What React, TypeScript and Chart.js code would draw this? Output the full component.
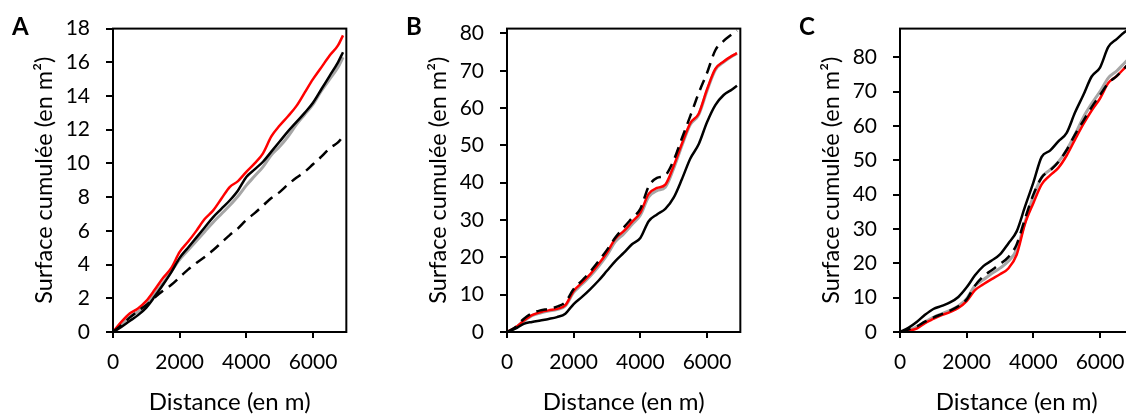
import React, { useEffect, useRef } from "react";
import { Chart, registerables } from "chart.js";

Chart.register(...registerables);

const FONT = "Lato";

const distances = [0, 250, 500, 750, 1000, 1250, 1500, 1750, 2000, 2250, 2500, 2750, 3000, 3250, 3500, 3750, 4000, 4250, 4500, 4750, 5000, 5250, 5500, 5750, 6000, 6250, 6500, 6750, 6900];
const xTicks = [0, 2000, 4000, 6000];
const xLabel = "Distance (en m)";
const yLabel = "Surface cumulée (en m²)";

// Panel A
const aTicks = [0, 2, 4, 6, 8, 10, 12, 14, 16, 18];
const aRed = [0, 0.6, 1.1, 1.4, 1.85, 2.5, 3.2, 3.8, 4.75, 5.35, 6.0, 6.7, 7.2, 7.9, 8.6, 8.95, 9.5, 10.0, 10.6, 11.6, 12.25, 12.8, 13.4, 14.2, 15.0, 15.7, 16.4, 17.0, 17.6];
const aBlack = [0, 0.3, 0.65, 1.0, 1.45, 2.1, 2.8, 3.55, 4.4, 5.0, 5.6, 6.2, 6.8, 7.3, 7.8, 8.4, 9.2, 9.65, 10.1, 10.7, 11.3, 11.9, 12.45, 13.0, 13.6, 14.4, 15.2, 16.0, 16.6];
const aGrey = [0, 0.45, 0.9, 1.2, 1.6, 2.25, 2.9, 3.6, 4.3, 4.85, 5.4, 5.95, 6.5, 7.0, 7.5, 8.05, 8.7, 9.25, 9.8, 10.5, 11.0, 11.6, 12.3, 12.9, 13.5, 14.3, 15.0, 15.7, 16.3];
const aDashed = [0, 0.4, 0.85, 1.25, 1.6, 2.05, 2.45, 2.8, 3.25, 3.7, 4.1, 4.45, 4.85, 5.3, 5.75, 6.15, 6.65, 7.05, 7.5, 7.95, 8.3, 8.75, 9.15, 9.5, 9.95, 10.4, 10.9, 11.25, 11.6];

// Panel B
const bTicks = [0, 10, 20, 30, 40, 50, 60, 70, 80];
const bRed = [0, 1.2, 3.0, 4.5, 5.3, 5.8, 6.2, 7.2, 11.0, 13.2, 15.5, 18.2, 21.3, 25.0, 27.0, 29.5, 32.0, 37.0, 38.6, 39.5, 44.5, 50.5, 56.0, 58.5, 65.0, 70.5, 72.5, 74.0, 74.7];
const bGrey = [0, 1.1, 2.9, 4.4, 5.1, 5.6, 6.0, 7.0, 10.6, 12.8, 15.0, 17.6, 20.6, 24.2, 26.3, 28.8, 31.3, 36.2, 37.9, 38.8, 43.8, 50.0, 55.6, 58.2, 64.6, 70.2, 72.3, 73.9, 74.6];
const bBlack = [0, 0.9, 2.2, 2.7, 3.1, 3.5, 4.0, 4.9, 7.5, 9.4, 11.5, 13.8, 16.4, 19.0, 21.2, 23.5, 25.2, 29.7, 31.5, 33.0, 36.0, 41.0, 46.5, 50.3, 56.2, 60.8, 63.5, 65.0, 66.0];
const bDashed = [0, 1.3, 3.5, 5.0, 5.8, 6.2, 6.8, 8.0, 11.5, 13.8, 16.2, 19.0, 22.0, 25.3, 28.0, 30.5, 33.0, 39.0, 41.3, 42.0, 46.0, 52.0, 57.9, 64.0, 69.4, 75.5, 78.0, 79.8, 80.8];

// Panel C
const cTicks = [0, 10, 20, 30, 40, 50, 60, 70, 80];
const cBlack = [0, 1.2, 2.9, 5.0, 6.7, 7.6, 8.6, 10.2, 13.0, 16.5, 19.2, 20.8, 22.6, 25.8, 29.3, 36.5, 43.5, 51.0, 52.8, 55.5, 58.0, 63.9, 69.0, 74.4, 77.0, 83.0, 85.3, 87.4, 88.3];
const cRed = [0, 0.4, 1.0, 2.6, 3.8, 4.9, 5.8, 7.0, 9.0, 12.2, 13.9, 15.4, 16.8, 18.5, 22.5, 31.5, 37.5, 43.0, 45.6, 47.8, 51.4, 56.0, 60.5, 64.5, 68.0, 72.5, 74.5, 77.0, 78.5];
const cGrey = [0, 0.5, 1.5, 3.0, 4.3, 5.3, 6.3, 7.6, 9.7, 13.5, 15.2, 17.0, 18.6, 20.6, 24.0, 32.0, 39.5, 45.0, 47.2, 49.5, 53.0, 57.5, 62.5, 66.5, 70.0, 74.0, 76.0, 78.5, 80.0];
const cDashed = [0, 0.7, 1.6, 3.0, 4.2, 5.2, 6.2, 7.5, 9.5, 13.5, 16.2, 18.0, 19.8, 21.8, 25.5, 33.0, 40.0, 45.0, 47.0, 49.5, 53.0, 57.5, 61.5, 65.5, 69.0, 72.5, 74.5, 77.0, 78.2];

type Panel = {
  letter: string;
  yMax: number;
  yTicks: number[];
  red: number[];
  black: number[];
  grey: number[];
  dashed: number[];
  left: number;
};

const panels: Panel[] = [
  { letter: "A", yMax: 18, yTicks: aTicks, red: aRed, black: aBlack, grey: aGrey, dashed: aDashed, left: 0 },
  { letter: "B", yMax: 81.3, yTicks: bTicks, red: bRed, black: bBlack, grey: bGrey, dashed: bDashed, left: 394 },
  { letter: "C", yMax: 88.35, yTicks: cTicks, red: cRed, black: cBlack, grey: cGrey, dashed: cDashed, left: 787 },
];

const CANVAS_W = 380;
const CANVAS_H = 414;

const boxPlugin = {
  id: "panelBox",
  afterDraw(chart: any, _args: any, opts: any) {
    const { ctx, chartArea } = chart;
    const { left, top, right, bottom } = chartArea;
    ctx.save();
    ctx.strokeStyle = "#000";
    ctx.lineWidth = 2;
    ctx.strokeRect(left, top, right - left, bottom - top);
    ctx.fillStyle = "#000";
    ctx.font = `bold 24px ${FONT}`;
    ctx.textBaseline = "alphabetic";
    ctx.textAlign = "left";
    ctx.fillText(opts.letter, 12, 35);
    ctx.restore();
  },
};

function toPoints(vals: number[]) {
  return vals.map((v, i) => ({ x: distances[i], y: v }));
}

function PanelChart({ p }: { p: Panel }) {
  const ref = useRef<HTMLCanvasElement | null>(null);
  useEffect(() => {
    if (!ref.current) return;
    const lineBase = {
      pointRadius: 0,
      borderWidth: 2.5,
      tension: 0.3,
      cubicInterpolationMode: "monotone" as const,
      fill: false,
    };
    const chart = new Chart(ref.current, {
      type: "line",
      data: {
        datasets: [
          { ...lineBase, data: toPoints(p.dashed), borderColor: "#000", borderDash: [11, 7] },
          { ...lineBase, data: toPoints(p.black), borderColor: "#000" },
          { ...lineBase, data: toPoints(p.red), borderColor: "#ff0000" },
          { ...lineBase, data: toPoints(p.grey), borderColor: "#a6a6a6", borderWidth: 3 },
        ],
      },
      options: {
        animation: false,
        responsive: false,
        devicePixelRatio: 1,
        events: [],
        layout: { padding: { left: 0, right: CANVAS_W - 113 - 233.33, top: 25, bottom: 0 } },
        plugins: {
          legend: { display: false },
          tooltip: { enabled: false },
          panelBox: { letter: p.letter },
        } as any,
        scales: {
          x: {
            type: "linear",
            min: 0,
            max: 7000,
            afterBuildTicks: (s: any) => {
              s.ticks = xTicks.map((v) => ({ value: v }));
            },
            afterFit: (s: any) => {
              s.height = 82;
            },
            grid: { display: true, drawOnChartArea: false, drawTicks: true, tickLength: 6, color: "#000", lineWidth: 2 },
            border: { display: true, color: "#000", width: 2 },
            ticks: {
              color: "#000",
              font: { family: FONT, size: 21 },
              padding: 12,
              maxRotation: 0,
              autoSkip: false,
              callback: (v: any) => String(v),
            },
            title: { display: true, text: xLabel, color: "#000", font: { family: FONT, size: 24, lineHeight: 1 }, padding: 0 },
          },
          y: {
            type: "linear",
            min: 0,
            max: p.yMax,
            afterBuildTicks: (s: any) => {
              s.ticks = p.yTicks.map((v) => ({ value: v }));
            },
            afterFit: (s: any) => {
              s.width = 113;
            },
            grid: { display: true, drawOnChartArea: false, drawTicks: true, tickLength: 7, color: "#000", lineWidth: 2 },
            border: { display: true, color: "#000", width: 2 },
            ticks: {
              color: "#000",
              font: { family: FONT, size: 21 },
              padding: 16,
              autoSkip: false,
              callback: (v: any) => String(v),
            },
            title: { display: true, text: yLabel, color: "#000", font: { family: FONT, size: 23.5, lineHeight: 1 }, padding: { top: 33, bottom: 0 } },
          },
        },
      },
      plugins: [boxPlugin],
    } as any);
    return () => chart.destroy();
  }, [p]);
  return (
    <canvas
      ref={ref}
      width={CANVAS_W}
      height={CANVAS_H}
      style={{ position: "absolute", left: p.left, top: 0, width: CANVAS_W, height: CANVAS_H }}
    />
  );
}

export default function App() {
  return (
    <div
      style={{
        position: "fixed",
        left: 0,
        top: 0,
        width: 1126,
        height: 414,
        overflow: "hidden",
        background: "#fff",
      }}
    >
      {panels.map((p) => (
        <PanelChart key={p.letter} p={p} />
      ))}
    </div>
  );
}
